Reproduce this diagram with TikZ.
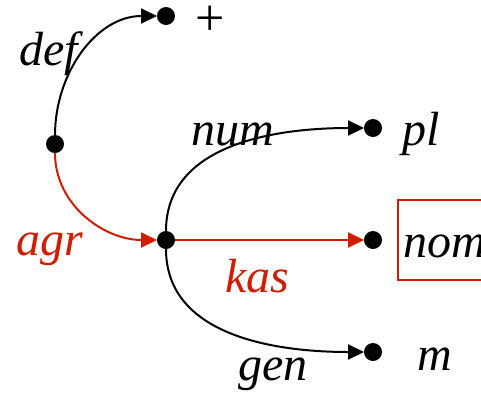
\documentclass[tikz,border=0pt]{standalone}
\usepackage{fontspec}
\setmainfont{Liberation Serif}
\usetikzlibrary{arrows.meta, positioning}
\definecolor{agrred}{RGB}{208,28,0}

\begin{document}
\begin{tikzpicture}[
    x=1pt, y=-1pt,
    knot/.style={circle, fill=black, minimum size=18pt, inner sep=0pt, outer sep=0pt},
    feat/.style={font=\fontsize{48}{52}\selectfont\itshape, inner sep=0pt, anchor=base},
    val/.style={feat, anchor=base west},
    valbox/.style={val, draw=agrred, line width=2.5pt, inner sep=5pt, outer sep=0pt, text height=52pt, text depth=18pt},
    arc/.style={-{Triangle[length=16pt, width=15pt]}, line width=2pt},
    redarc/.style={arc, draw=agrred, -{Triangle[length=16pt, width=15pt, fill=agrred]}}
]
    \useasboundingbox (0,0) rectangle (481,397);
    \clip (0,0) rectangle (481,397);

    % Knots
    \node[knot] (root) at (55,144) {};
    \node[knot] (plus) at (166,16) {};
    \node[knot] (agr) at (166,240) {};
    \node[knot] (pl) at (373,128) {};
    \node[knot] (nom) at (373,240) {};
    \node[knot] (m) at (373,352) {};

    % Values
    \node[inner sep=0pt, font=\fontsize{52}{56}\selectfont] (plusval) at (210,21) {+};
    \node[val] (plval) at (402,145) {pl};
    \node[valbox] (nomval) at (398,257) {nom};
    \node[val] (mval) at (417,370) {m};

    % Features
    \node[feat] (deflab) at (49,65) {def};
    \node[feat, text=agrred] (agrlab) at (50,255) {agr};
    \node[feat] (numlab) at (233,145) {num};
    \node[feat, text=agrred] (kaslab) at (257,292) {kas};
    \node[feat] (genlab) at (273,380) {gen};

    % Arcs
    \draw[arc] (root) to[out=90, in=180] (plus);
    \draw[redarc] (root) to[out=-90, in=180] (agr);
    \draw[arc] (agr) to[out=90, in=180] (pl);
    \draw[redarc] (agr) -- (nom);
    \draw[arc] (agr) to[out=-90, in=180] (m);
\end{tikzpicture}
\end{document}
